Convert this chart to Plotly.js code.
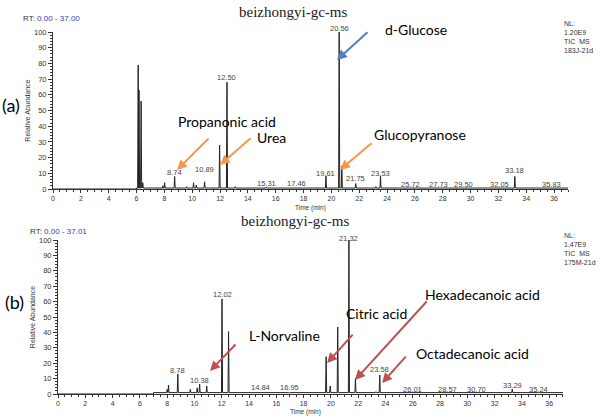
<!DOCTYPE html>
<html>
<head>
<meta charset="utf-8">
<script src="https://cdn.plot.ly/plotly-3.0.1.min.js"></script>
<style>
  html, body { margin: 0; padding: 0; background: #fff; }
  #chart { width: 600px; height: 416px; }
</style>
</head>
<body>
<div id="chart"></div>
<script>
// -- Data: peaks --------------------------------------------------------------
// (a) 183J-21d
const peaksA_rt = [6.12, 6.18, 6.33, 6.45, 7.9, 8.02, 8.74, 9.6, 10.1, 10.3, 10.89, 11.97, 12.5, 13.1,
  15.31, 17.46, 19.61, 20.56, 20.75, 21.75, 23.2, 23.53, 25.72, 27.73, 29.5, 32.05, 33.18, 35.83];
const peaksA_h = [79, 63, 56, 4, 2, 4, 8, 1.5, 4, 2.5, 4.6, 28, 68, 1.5,
  1.2, 1, 8.3, 100, 14.6, 3.5, 1.5, 8.3, 0.8, 0.8, 0.8, 1, 8, 0.8];
const baseA = { start: 6.0, level: 0.6 };
const labelsA_rt = [8.74, 10.89, 12.50, 15.31, 17.46, 19.61, 20.56, 21.75, 23.53, 25.72, 27.73, 29.50, 32.05, 33.18, 35.83];
const labelsA_y = [10.8, 12.7, 70.7, 3.8, 3.8, 10, 102.5, 6.4, 10, 2.8, 2.8, 2.8, 2.8, 11.7, 2.8];

// (b) 175M-21d
const peaksB_rt = [8.0, 8.1, 8.78, 9.7, 10.2, 10.38, 10.9, 12.02, 12.5, 13.0, 14.84, 16.95,
  19.65, 19.95, 20.5, 21.32, 21.8, 23.3, 23.58, 26.01, 28.57, 30.7, 33.29, 35.24];
const peaksB_h = [3, 5.8, 13, 3, 4, 6.5, 5.2, 61.7, 40.5, 1.2, 1, 0.6,
  24.2, 5.2, 43.5, 100, 10.4, 1.5, 12.3, 0.6, 0.6, 0.6, 3.2, 0.6];
const baseB = { start: 7.0, level: 0.9 };
const labelsB_rt = [8.78, 10.38, 12.02, 14.84, 16.95, 21.32, 23.58, 26.01, 28.57, 30.70, 33.29, 35.24];
const labelsB_y = [15.1, 8.9, 64.3, 3.9, 3.9, 101, 15.6, 3.2, 3.2, 3.2, 5.4, 3.2];

// compound callouts: [text, colour, head rt, head y, tail dx px, tail dy px, text rt, text y]
const calloutsA = [
  ['d-Glucose', '#4f81bd', 20.40, 82.2, 32, -29, 26.08, 101.3],
  ['Propanonic acid', '#f79646', 8.91, 12.1, 33, -33, 12.5, 43.3],
  ['Urea', '#f79646', 12.0, 15.3, 32, -28, 15.73, 33.1],
  ['Glucopyranose', '#f79646', 20.62, 12.1, 33, -28, 26.37, 34.4],
];
const calloutsB = [
  ['L-Norvaline', '#c0504d', 11.14, 14.9, 27, -28, 16.57, 38.3],
  ['Citric acid', '#c0504d', 19.72, 20.1, 27, -30, 23.31, 52.6],
  ['Hexadecanoic acid', '#c0504d', 21.77, 9.1, 73, -80, 31.09, 64.3],
  ['Octadecanoic acid', '#c0504d', 23.75, 7.1, 25, -28, 30.35, 26.6],
];

// -- Build a stick-like chromatogram line from peak lists ---------------------
function buildTrace(rts, hs, base, tEnd) {
  const w = 0.04;
  const xs = [0, base.start, base.start];
  const ys = [0, 0, base.level];
  const order = rts.map((t, i) => i).sort((a, b) => rts[a] - rts[b]);
  order.forEach(i => {
    xs.push(rts[i] - w, rts[i], rts[i] + w);
    ys.push(base.level, hs[i], base.level);
  });
  xs.push(tEnd);
  ys.push(base.level);
  return { xs, ys };
}

const trA = buildTrace(peaksA_rt, peaksA_h, baseA, 37.0);
const trB = buildTrace(peaksB_rt, peaksB_h, baseB, 37.01);

const traceA = {
  x: trA.xs, y: trA.ys, xaxis: 'x', yaxis: 'y',
  type: 'scatter', mode: 'lines', line: { color: '#222', width: 1 }, hoverinfo: 'skip',
};
const traceB = {
  x: trB.xs, y: trB.ys, xaxis: 'x2', yaxis: 'y2',
  type: 'scatter', mode: 'lines', line: { color: '#222', width: 1 }, hoverinfo: 'skip',
};

// -- Axes ---------------------------------------------------------------------
const tickFont = { family: 'Liberation Sans, Arial', size: 7.5, color: '#333' };
const xTickFont = { family: 'Liberation Sans, Arial', size: 7, color: '#333' };
const axTitleFont = { family: 'Liberation Sans, Arial', size: 7, color: '#333' };
function xAxis(domain, anchor, range) {
  return {
    domain, anchor, range, dtick: 2, tick0: 0,
    ticks: 'outside', ticklen: 3, tickcolor: '#333', showline: true, linecolor: '#333', linewidth: 1,
    minor: { dtick: 0.5, ticklen: 2, tickcolor: '#333', ticks: 'outside' },
    showgrid: false, zeroline: false, tickfont: xTickFont,
  };
}
function yAxis(domain, anchor) {
  return {
    domain, anchor, range: [0, 100], dtick: 10,
    ticks: 'outside', ticklen: 4, tickcolor: '#333', showline: true, linecolor: '#333', linewidth: 1,
    minor: { dtick: 2, ticklen: 2, tickcolor: '#333', ticks: 'outside' },
    showgrid: false, zeroline: false, tickfont: tickFont,
    title: { text: 'Relative Abundance', font: axTitleFont, standoff: 2 },
  };
}

// -- Annotations --------------------------------------------------------------
// annotations outside the axis range are hidden, so clamp to 100 and shift in px
const pxPerUnit = { y: 157 / 100, y2: 154 / 100 };
function clampY(y, yr) {
  return y > 100 ? { y: 100, yshift: (y - 100) * pxPerUnit[yr] } : { y, yshift: 0 };
}

const annotations = [];
function rtLabels(rts, ys, xr, yr) {
  rts.forEach((t, i) => annotations.push(Object.assign({
    x: t, xref: xr, yref: yr, text: t.toFixed(2), showarrow: false,
    yanchor: 'middle', font: { family: 'Liberation Sans, Arial', size: 7.5, color: '#444' },
  }, clampY(ys[i], yr))));
}
rtLabels(labelsA_rt, labelsA_y, 'x', 'y');
rtLabels(labelsB_rt, labelsB_y, 'x2', 'y2');

function callouts(list, xr, yr) {
  list.forEach(c => {
    annotations.push({
      x: c[2], y: c[3], xref: xr, yref: yr, ax: c[4], ay: c[5], text: '',
      showarrow: true, arrowhead: 2, arrowsize: 1, arrowwidth: 2, arrowcolor: c[1],
    });
    annotations.push(Object.assign({
      x: c[6], xref: xr, yref: yr, text: c[0], showarrow: false,
      font: { family: 'Lato, sans-serif', size: 14, color: '#000' },
    }, clampY(c[7], yr)));
  });
}
callouts(calloutsA, 'x', 'y');
callouts(calloutsB, 'x2', 'y2');

const paperText = (x, y, text, font, xanchor) => annotations.push({
  x: x / 600, y: 1 - y / 416, xref: 'paper', yref: 'paper', text, showarrow: false,
  xanchor: xanchor || 'center', yanchor: 'middle', font, align: 'left',
});
const titleFont = { family: 'Liberation Serif, Times New Roman, serif', size: 15, color: '#222' };
const smallFont = { family: 'Liberation Sans, Arial', size: 7, color: '#333' };
const rtFont = { family: 'Liberation Sans, Arial', size: 8, color: '#333' };
const panelFont = { family: 'Lato, sans-serif', size: 18, color: '#000' };
const timeFont = { family: 'Liberation Sans, Arial', size: 6.5, color: '#333' };

paperText(293, 12, 'beizhongyi-gc-ms', titleFont);
paperText(295, 221, 'beizhongyi-gc-ms', titleFont);
paperText(310, 208, 'Time (min)', timeFont);
paperText(305, 412, 'Time (min)', timeFont);
paperText(21, 19, 'RT: <span style="color:#3b3bb3">0.00 - 37.00</span>', rtFont, 'left');
paperText(28, 231, 'RT: <span style="color:#3b3bb3">0.00 - 37.01</span>', rtFont, 'left');
paperText(562, 37, 'NL:<br>1.20E9<br>TIC  MS<br>183J-21d', smallFont, 'left');
paperText(562, 249, 'NL:<br>1.47E9<br>TIC  MS<br>175M-21d', smallFont, 'left');
paperText(0, 105, '(a)', panelFont, 'left');
paperText(3, 302, '(b)', panelFont, 'left');

const layout = {
  width: 600, height: 416,
  margin: { l: 0, r: 0, t: 0, b: 0 },
  paper_bgcolor: '#fff', plot_bgcolor: '#fff',
  showlegend: false,
  xaxis: xAxis([53 / 600, 568 / 600], 'y', [0, 37.0]),
  yaxis: yAxis([1 - 189 / 416, 1 - 32 / 416], 'x'),
  xaxis2: xAxis([58 / 600, 563 / 600], 'y2', [0, 37.01]),
  yaxis2: yAxis([1 - 394 / 416, 1 - 240 / 416], 'x2'),
  annotations,
};

Plotly.newPlot('chart', [traceA, traceB], layout, { displayModeBar: false, staticPlot: true });
</script>
</body>
</html>
